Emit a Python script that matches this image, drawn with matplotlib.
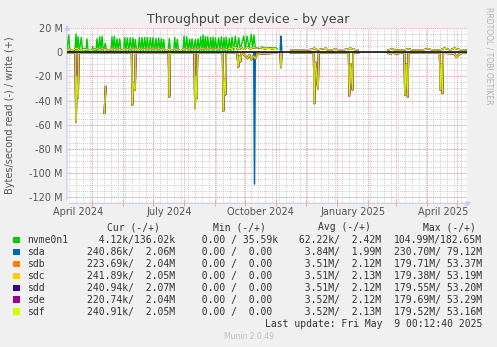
import numpy as np
import matplotlib
matplotlib.use("Agg")
import matplotlib.pyplot as plt
from matplotlib.patches import Rectangle

# days counted from 2024-05-01, values in MB/s (M)
nan = np.nan
base = np.datetime64("2024-05-01T00:00")

nvme_w_day = [-25.3, -23.6, -22.3, -17.5, -16.3, -15.4, -14.3, -12.9, -11.0, -9.9, -9.0, -8.0,
              -6.4, -5.3, -4.2, -0.8, 0.4, 1.5, 2.7, 3.7, 4.7, 6.0, 7.4, 8.5, 9.7, 11.0, 13.0,
              14.5, 18.6, 19.7, 20.9, 22.0, 23.4, 24.7, 26.0, 27.4, 28.8, 31.3, 32.4, 33.7, 35.0,
              36.5, 38.0, 39.4, 40.7, 41.9, 43.0, 44.3, 45.8, 47.0, 48.4, 49.7, 51.0, 52.4, 53.7,
              55.0, 56.5, 58.0, 59.4, 60.7, 62.2, 63.7, 65.0, 66.4, 67.7, 69.0, 70.2, 71.4, 72.7,
              75.9, 77.0, 78.3, 81.3, 82.4, 83.7, 85.0, 86.3, 90.6, 91.7, 93.0, 94.4, 95.9, 97.4,
              98.6, 99.7, 101.3, 103.0, 104.3, 105.7, 107.0, 108.4, 109.6, 110.7, 111.9, 113.0,
              114.2, 115.4, 116.9, 118.4, 119.6, 120.7, 121.9, 123.0, 124.7, 126.4, 127.7, 129.0,
              130.4, 131.7, 132.9, 134.0, 135.5, 137.0, 138.4, 139.7, 141.4, 143.0, 144.7, 146.4,
              148.0, 151.4, 153.0, 154.7, 156.8, 159.0, 160.4, 161.7, 163.0, 166.0, 170.0, 174.0,
              178.0, 182.0, 185.0]
nvme_w_val = [0.8, 14.4, 0.8, 0.8, 15.2, 1.5, 13.0, 1.0, 12.4, 2.5, 3.0, 2.5,
              1.0, 11.3, 0.5, 0.5, 4.7, 1.0, 3.0, 1.0, 11.3, 1.0, 13.0, 1.0, 13.5, 1.0, 7.5,
              0.8, 0.8, 13.0, 1.0, 13.5, 1.0, 11.3, 1.0, 11.3, 0.8, 0.8, 12.2, 1.0, 12.0,
              1.0, 12.2, 1.0, 12.0, 1.0, 10.8, 0.8, 0.8, 12.4, 1.0, 12.4, 1.0, 12.4, 1.0,
              12.4, 1.0, 12.2, 1.0, 12.2, 1.0, 11.6, 1.0, 12.0, 1.0, 11.3, 1.0, 10.8, 0.8,
              0.8, 11.6, 0.8, 0.8, 12.4, 1.0, 10.8, 0.8, 0.8, 13.5, 1.0, 13.0, 1.0, 10.8,
              1.0, 11.3, 1.0, 10.8, 1.0, 11.3, 1.0, 13.0, 1.0, 14.4, 1.0, 13.0,
              1.0, 13.0, 1.0, 12.4, 1.0, 12.7, 1.0, 12.0, 1.0, 12.2, 1.0, 13.0,
              1.0, 12.2, 1.0, 12.7, 1.0, 11.6, 1.0, 12.7, 1.5, 13.5, 2.0, 12.2,
              2.5, 13.5, 3.0, 13.5, 3.0, 15.0, 3.5, 14.4, 4.0, 3.5, 4.5, 3.0,
              4.0, 3.5, 3.0]

hdd_w_day = [-25.3, -23.6, -20.0, -16.3, -14.3, -12.0, -9.0, -5.3, -2.0, 0.4, 4.7, 7.4, 9.7,
             13.0, 16.0, 19.7, 22.0, 24.7, 27.4, 30.0, 32.4, 35.0, 38.0, 40.7, 43.0, 45.5,
             47.0, 52.4, 55.0, 58.0, 60.7, 63.7, 66.4, 69.0, 71.4, 74.0, 77.0, 80.0, 82.4,
             85.0, 88.0, 91.7, 94.4, 97.4, 100.0, 103.0, 105.7, 108.4, 110.7, 113.0, 115.4,
             118.4, 120.7, 123.0, 126.4, 129.0, 131.7, 134.0, 137.0, 139.7, 143.0, 146.0,
             149.0, 152.0, 155.0, 158.0, 161.0, 164.0, 168.0, 172.0, 176.0, 180.0, 184.0,
             185.5, 198.4, 205.0, 212.0, 220.0, 222.0, 225.0, 233.7, 235.0, 240.0, 243.0,
             246.0, 255.0, 258.0, 261.0, 266.0, 266.5, 296.0, 300.0, 303.0, 312.0, 316.0,
             320.0, 330.0, 336.0, 340.0, 348.0, 352.0, 358.0, 362.0, 366.0, 370.0, 373.7]
hdd_w_val = [1.5, 3.0, 1.2, 3.5, 3.0, 1.2, 2.5, 2.5, 1.2, 2.0, 3.0, 2.5, 3.0,
             2.5, 1.5, 3.0, 2.5, 3.0, 2.5, 1.2, 3.0, 2.5, 3.0, 2.5, 3.0, 1.2,
             3.0, 2.5, 3.0, 2.5, 3.0, 2.5, 3.0, 2.5, 3.0, 1.2, 3.0, 1.5, 3.0,
             2.5, 1.2, 3.0, 2.5, 3.0, 2.5, 3.0, 2.5, 3.0, 3.0, 2.5, 3.0,
             2.5, 3.0, 2.5, 3.0, 2.5, 3.0, 2.5, 3.0, 3.5, 4.5, 3.0,
             4.0, 2.5, 4.5, 3.0, 4.0, 3.5, 4.0, 3.0, 3.5, 3.0, 3.5,
             nan, 2.0, 2.0, 2.0, 2.5, 3.5, 2.0, 3.4, 2.0, 2.0, 3.0,
             2.0, 2.5, 3.5, 2.5, 2.0, nan, 2.0, 3.0, 1.8, 2.0, 3.0,
             2.0, 2.0, 3.0, 2.0, 2.0, 3.5, 2.0, 3.5, 2.5, 2.0, 2.0]

hdd_r_day = [-25.3, -16.9, -16.3, -15.6, -14.3, -13.6, 11.3, 11.6, 12.2, 12.8, 13.4, 13.6,
             14.2, 39.4, 40.0, 41.0, 42.7, 43.4, 76.3, 77.0, 77.7, 102.1, 102.7, 103.5,
             104.4, 105.1, 130.4, 131.0, 132.0, 133.2, 133.9, 145.0, 146.0, 147.0, 148.0,
             149.0, 152.0, 155.0, 157.0, 159.0, 161.0, 163.0, 165.0, 170.0, 176.0, 184.0,
             185.5, 188.1, 188.7, 189.3, 189.5, 198.4, 221.4, 222.0, 223.0, 225.7, 226.4,
             256.4, 257.0, 258.5, 260.2, 260.9, 266.0, 266.5, 296.0, 298.0, 300.0, 305.0,
             307.0, 312.1, 312.7, 314.0, 315.4, 316.1, 347.4, 348.0, 349.0, 350.2, 350.9,
             362.0, 364.4, 366.0, 370.0, 373.7]
hdd_r_val = [-0.4, -0.4, -57.5, -20.0, -38.0, -0.5, -0.4, nan, -50.5, -38.0, -28.6, nan,
             -0.4, -0.4, -43.8, -25.0, -31.0, -0.5, -0.4, -37.0, -0.5, -0.4, -46.5, -20.0,
             -38.0, -0.5, -0.4, -48.8, -22.0, -35.0, -0.5, -0.5, -12.0, -3.0, -8.0,
             -1.0, -2.0, -5.0, -2.0, -6.0, -3.0, -5.0, -1.5, -1.0, -0.8, -0.5,
             nan, -0.3, -12.5, -0.3, nan, -0.3, -0.3, -42.4, -8.0, -30.0, -0.4,
             -0.4, -36.0, -10.0, -31.0, -0.4, -0.4, nan, -0.4, -1.5, -0.4, -1.2,
             -0.4, -0.4, -35.5, -10.0, -37.0, -0.4, -0.4, -31.0, -10.0, -34.0, -0.5,
             -1.0, -4.0, -2.0, -0.5, -0.4]

sda_r_day = [161.4, 162.2, 163.0]
sda_r_val = [-0.5, -109.4, -0.5]
sda_w_day = [188.0, 188.7, 189.4]
sda_w_val = [2.0, 13.5, 2.0]

devices = ["nvme0n1", "sda", "sdb", "sdc", "sdd", "sde", "sdf"]
colors = ["#00CC00", "#0066B3", "#FF8000", "#FFCC00", "#330099", "#990099", "#CCFF00"]
cur = ["  4.12k/136.02k", "240.86k/  2.06M", "223.69k/  2.04M", "241.89k/  2.05M",
       "240.94k/  2.07M", "220.74k/  2.04M", "240.91k/  2.05M"]
mins = ["  0.00 / 35.59k", "  0.00 /  0.00 ", "  0.00 /  0.00 ", "  0.00 /  0.00 ",
        "  0.00 /  0.00 ", "  0.00 /  0.00 ", "  0.00 /  0.00 "]
avgs = [" 62.22k/  2.42M", "  3.84M/  1.99M", "  3.51M/  2.12M", "  3.51M/  2.13M",
        "  3.51M/  2.12M", "  3.52M/  2.12M", "  3.52M/  2.13M"]
maxs = ["104.99M/182.65M", "230.70M/ 79.12M", "179.71M/ 53.37M", "179.38M/ 53.19M",
        "179.55M/ 53.20M", "179.69M/ 53.29M", "179.52M/ 53.16M"]
yticks = [20, 0, -20, -40, -60, -80, -100, -120]
xlabels = ["April 2024", "July 2024", "October 2024", "January 2025", "April 2025"]
xlabel_dates = ["2024-04-16T12", "2024-07-16T12", "2024-10-16T12", "2025-01-16T12", "2025-04-16T12"]


def to_dates(days):
    return base + (np.array(days) * 24 * 60).astype("timedelta64[m]")


W, H = 497, 347
fig = plt.figure(figsize=(W / 100, H / 100), dpi=100, facecolor="#F0F0F0")
ax = fig.add_axes([67 / W, 1 - 203.3 / H, 400 / W, 175 / H], facecolor="white")

ax.set_xlim(to_dates([-25.3])[0], to_dates([374.7])[0])
ax.set_ylim(-125.4, 20)

# grid: grey minor (weekly / 5M), red major (monthly / 20M)
for wk in np.arange(np.datetime64("2024-04-08"), np.datetime64("2025-05-12"), np.timedelta64(7, "D")):
    ax.axvline(wk, color="#cccccc", lw=0.7, ls=(0, (1, 1)), zorder=1)
for yv in range(-125, 20, 5):
    ax.axhline(yv, color="#cccccc", lw=0.7, ls=(0, (1, 1)), zorder=1)
months = np.arange(np.datetime64("2024-05"), np.datetime64("2025-06"), np.timedelta64(1, "M")).astype("datetime64[m]")
for m in months:
    ax.axvline(m, color="#e8a0a0", lw=0.7, ls=(0, (1, 1)), zorder=1.5)
for yv in yticks:
    ax.axhline(yv, color="#e8a0a0", lw=0.7, ls=(0, (1, 1)), zorder=1.5)

# sda under the other disks, reads of sdb..sdf blend into olive
ax.plot(to_dates(hdd_r_day), hdd_r_val, color=colors[1], lw=1.0, zorder=3)
ax.plot(to_dates(hdd_w_day), hdd_w_val, color=colors[1], lw=1.0, zorder=3)
ax.plot(to_dates(sda_r_day), sda_r_val, color=colors[1], lw=1.1, zorder=3)
ax.plot(to_dates(sda_w_day), sda_w_val, color=colors[1], lw=1.1, zorder=3)
for i in range(2, 6):
    ax.plot(to_dates(hdd_r_day), hdd_r_val, color=colors[i], lw=1.3, zorder=3 + i * 0.1)
ax.plot(to_dates(hdd_r_day), hdd_r_val, color=colors[6], lw=1.3, alpha=0.6, zorder=3.7)
ax.plot(to_dates(hdd_r_day), hdd_r_val, color=colors[6], lw=0.5, zorder=3.8)
ax.plot(to_dates(nvme_w_day), nvme_w_val, color=colors[0], lw=1.0, zorder=4)
for i in range(2, 7):
    ax.plot(to_dates(hdd_w_day), hdd_w_val, color=colors[i], lw=0.9, zorder=4.1 + i * 0.1)
ax.axhline(0, color="black", lw=1.1, zorder=6)

for s in ax.spines.values():
    s.set_visible(False)
axis_c = "#c8c8f0"
ax.annotate("", xy=(1.018, 0), xytext=(0, 0), xycoords="axes fraction",
            arrowprops=dict(arrowstyle="-|>", color=axis_c, lw=0.8, mutation_scale=7))
ax.annotate("", xy=(0, 1.035), xytext=(0, 0), xycoords="axes fraction",
            arrowprops=dict(arrowstyle="-|>", color=axis_c, lw=0.8, mutation_scale=7))

txt_c = "#555555"
ax.set_yticks(yticks)
ax.set_yticklabels(["%d M" % v if v != 0 else "0" for v in yticks], fontsize=7, color=txt_c)
ax.set_xticks(np.array(xlabel_dates, dtype="datetime64[m]"))
ax.set_xticklabels(xlabels, fontsize=7, color=txt_c)
ax.set_xticks(months, minor=True)
ax.tick_params(axis="both", which="major", length=0, pad=3)
ax.tick_params(axis="x", which="minor", length=4, direction="inout", color="#e8a0a0", width=0.7)

fig.text(248 / W, 1 - 19 / H, "Throughput per device - by year", ha="center", va="center",
         fontsize=9, color="#444444")
fig.text(10 / W, 1 - 115 / H, "Bytes/second read (-) / write (+)", rotation=90, ha="center",
         va="center", fontsize=7, color=txt_c)
fig.text(489 / W, 1 - 56 / H, "RRDTOOL / TOBI OETIKER", rotation=270, ha="center", va="center",
         fontsize=5.5, color="#b4b4b4")

mono = "DejaVu Sans Mono"
fs = 7
for hx, h in zip([107.3, 213, 318, 422.7], ["Cur (-/+)", "Min (-/+)", "Avg (-/+)", "Max (-/+)"]):
    fig.text(hx / W, 1 - 227.5 / H, h, family=mono, fontsize=fs, color="#333333", va="center")
for k, dev in enumerate(devices):
    yy = 1 - (240 + k * 11.95) / H
    fig.patches.append(Rectangle((13.3 / W, yy - 3.2 / H), 6.5 / W, 6.5 / H, transform=fig.transFigure,
                                 facecolor=colors[k], edgecolor="none"))
    fig.text(26.7 / W, yy, dev, family=mono, fontsize=fs, color="#333333", va="center")
    for fx, col in zip([87.4, 189.9, 293.2, 394.3], [cur, mins, avgs, maxs]):
        fig.text(fx / W, yy, col[k], family=mono, fontsize=fs, color="#333333", va="center")
fig.text(482.7 / W, 1 - 324 / H, "Last update: Fri May  9 00:12:40 2025", family=mono, fontsize=fs,
         color="#333333", va="center", ha="right")
fig.text(248.8 / W, 1 - 336.5 / H, "Munin 2.0.49", fontsize=5.5, color="#c0c0c0", ha="center", va="center")

fig.savefig("out.png", dpi=100, facecolor=fig.get_facecolor())
